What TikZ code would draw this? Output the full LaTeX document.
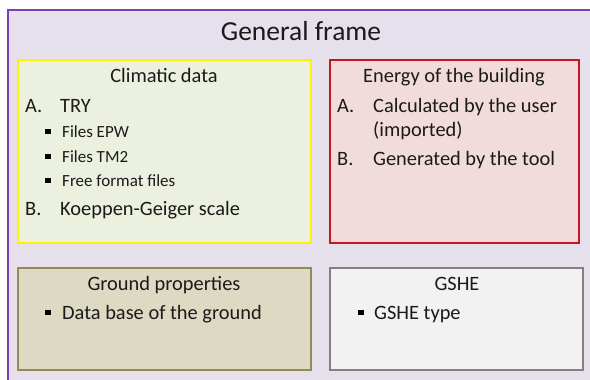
\documentclass[tikz,border=0pt]{standalone}
\usepackage{fontspec}
\setmainfont{Carlito}
\usepackage{tikz}

\definecolor{frameviolet}{HTML}{7A3FB0}
\definecolor{framefill}{HTML}{E5E0EC}
\definecolor{climfill}{HTML}{EBF1DE}
\definecolor{energyred}{HTML}{C8161D}
\definecolor{energyfill}{HTML}{F2DCDB}
\definecolor{groundline}{HTML}{948A54}
\definecolor{groundfill}{HTML}{DDD9C3}
\definecolor{gshegray}{HTML}{808080}
\definecolor{gshefill}{HTML}{F2F2F2}
\definecolor{inktext}{HTML}{1A1A1A}

\tikzset{
  boxtitle/.style={anchor=base, inner sep=0pt, text=inktext, font=\fontsize{20.4}{24}\selectfont},
  itemtext/.style={anchor=base west, inner sep=0pt, text=inktext, font=\fontsize{20.4}{24}\selectfont},
  subtext/.style={anchor=base west, inner sep=0pt, text=inktext, font=\fontsize{17}{20}\selectfont},
  sqbullet/.style={fill=black, inner sep=0pt, minimum size=5.5pt},
}

\begin{document}
\begin{tikzpicture}[x=1pt,y=-1pt]
      \clip (0,0) rectangle (590,380);
      \fill[white] (0,0) rectangle (590,380);
      % general frame
      \draw[frameviolet, line width=2pt, fill=framefill] (8,10) rectangle (604,394);
      \node[anchor=base, inner sep=0pt, text=inktext, font=\fontsize{27.5}{32}\selectfont] (gentitle) at (301,40) {General frame};
      % boxes
      \draw[yellow, line width=2pt, fill=climfill] (18,60) rectangle (311,243);
      \draw[energyred, line width=2pt, fill=energyfill] (330,60) rectangle (579,243);
      \draw[groundline, line width=2pt, fill=groundfill] (18,268) rectangle (311,370);
      \draw[gshegray, line width=2pt, fill=gshefill] (330,268) rectangle (583,370);
      % climatic data
      \node[boxtitle] (clim) at (164,82) {Climatic data};
      \node[itemtext] (climA) at (25,112) {A.};
      \node[itemtext] (try) at (60,112) {TRY};
      \node[sqbullet] (b1) at (48,131.5) {};
      \node[subtext] (epw) at (62,137) {Files EPW};
      \node[sqbullet] (b2) at (48,156.5) {};
      \node[subtext] (tm2) at (62,162) {Files TM2};
      \node[sqbullet] (b3) at (48,180.5) {};
      \node[subtext] (free) at (62,186) {Free format files};
      \node[itemtext] (climB) at (25,215) {B.};
      \node[itemtext] (koep) at (60,215) {Koeppen-Geiger scale};
      % energy of the building
      \node[boxtitle] (energy) at (454,82) {Energy of the building};
      \node[itemtext] (enA) at (337,112) {A.};
      \node[itemtext] (calc) at (373,112) {Calculated by the user};
      \node[itemtext] (imp) at (373,136) {(imported)};
      \node[itemtext] (enB) at (337,165) {B.};
      \node[itemtext] (gen) at (373,165) {Generated by the tool};
      % ground properties
      \node[boxtitle] (ground) at (164,290) {Ground properties};
      \node[sqbullet] (b4) at (48,312.5) {};
      \node[itemtext] (dbase) at (62,319) {Data base of the ground};
      % gshe
      \node[boxtitle] (gshe) at (457,290) {GSHE};
      \node[sqbullet] (b5) at (361,312.5) {};
      \node[itemtext] (gtype) at (374,319) {GSHE type};
    \end{tikzpicture}
\end{document}
